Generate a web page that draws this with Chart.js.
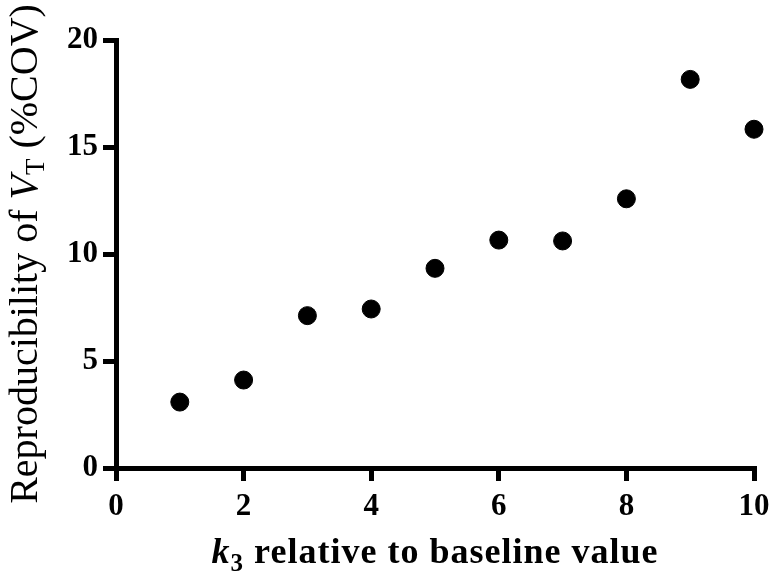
<!DOCTYPE html>
<html>
<head>
<meta charset="utf-8">
<script src="https://cdn.jsdelivr.net/npm/chart.js@4/dist/chart.umd.min.js"></script>
<style>
  html, body { margin: 0; padding: 0; background: #fff; }
  #wrap { width: 774px; height: 576px; }
</style>
</head>
<body>
<div id="wrap"><canvas id="c" width="774" height="576"></canvas></div>
<script>
// Data
const k3Relative = [1, 2, 3, 4, 5, 6, 7, 8, 9, 10];
const reproducibilityCOV = [3.08, 4.11, 7.12, 7.43, 9.33, 10.65, 10.61, 12.58, 18.16, 15.83];
const xTicks = [0, 2, 4, 6, 8, 10];
const yTicks = [0, 5, 10, 15, 20];

const SERIF = '"Liberation Serif", "Times New Roman", serif';

const points = k3Relative.map((x, i) => ({ x: x, y: reproducibilityCOV[i] }));

function drawRich(ctx, segs, cx, baseY, spacing) {
  ctx.letterSpacing = (spacing || 0) + 'px';
  let total = 0;
  segs.forEach(s => { ctx.font = s.font; s.w = ctx.measureText(s.t).width; total += s.w; });
  let x = cx - total / 2;
  ctx.textAlign = 'left';
  ctx.textBaseline = 'alphabetic';
  segs.forEach(s => {
    ctx.font = s.font;
    ctx.fillText(s.t, x, baseY + (s.dy || 0));
    x += s.w;
  });
  ctx.letterSpacing = '0px';
}

const titlesPlugin = {
  id: 'richTitles',
  afterDraw(chart) {
    const { ctx, chartArea } = chart;
    ctx.save();
    ctx.fillStyle = '#000';
    // x axis title
    const cx = (chartArea.left + chartArea.right) / 2;
    drawRich(ctx, [
      { t: 'k', font: 'italic bold 36px ' + SERIF },
      { t: '3', font: 'bold 25px ' + SERIF, dy: 8 },
      { t: ' relative to baseline value', font: 'bold 36px ' + SERIF }
    ], cx, chartArea.bottom + 95, 1);
    // y axis title (rotated)
    const cy = (chartArea.top + chartArea.bottom) / 2;
    ctx.translate(chartArea.left - 79, cy);
    ctx.rotate(-Math.PI / 2);
    drawRich(ctx, [
      { t: 'Reproducibility of ', font: '40px ' + SERIF },
      { t: 'V', font: 'italic 40px ' + SERIF },
      { t: 'T', font: '27px ' + SERIF, dy: 7 },
      { t: ' (%COV)', font: '40px ' + SERIF }
    ], 0, 0, 0);
    ctx.restore();
  }
};

new Chart(document.getElementById('c'), {
  type: 'scatter',
  data: {
    datasets: [{
      data: points,
      backgroundColor: '#000',
      borderColor: '#000',
      pointRadius: 9,
      pointHoverRadius: 9,
      clip: false
    }]
  },
  options: {
    responsive: false,
    animation: false,
    layout: { padding: { top: 40, right: 20, left: 0, bottom: 0 } },
    plugins: { legend: { display: false }, tooltip: { enabled: false } },
    scales: {
      x: {
        type: 'linear',
        min: 0, max: 10,
        afterBuildTicks: s => { s.ticks = xTicks.map(v => ({ value: v })); },
        afterFit: s => { s.height = 108; s.paddingRight = 0; s.paddingLeft = 0; },
        grid: { drawOnChartArea: false, drawTicks: true, tickLength: 13, tickWidth: 5, tickColor: '#000', color: '#000', lineWidth: 5 },
        border: { display: true, width: 5, color: '#000' },
        ticks: { color: '#000', padding: 7, font: { family: SERIF, size: 31, weight: 'bold' }, maxRotation: 0 }
      },
      y: {
        type: 'linear',
        min: 0, max: 20,
        afterBuildTicks: s => { s.ticks = yTicks.map(v => ({ value: v })); },
        afterFit: s => { s.width = 116; s.paddingTop = 0; s.paddingBottom = 0; },
        grid: { drawOnChartArea: false, drawTicks: true, tickLength: 13, tickWidth: 5, tickColor: '#000', color: '#000', lineWidth: 5 },
        border: { display: true, width: 5, color: '#000' },
        ticks: { color: '#000', padding: 5, font: { family: SERIF, size: 31, weight: 'bold' } }
      }
    }
  },
  plugins: [titlesPlugin]
});
</script>
</body>
</html>
